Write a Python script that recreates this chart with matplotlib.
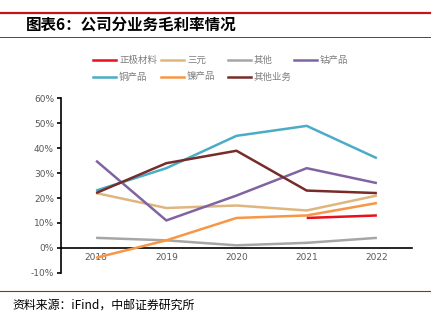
import matplotlib
matplotlib.use("Agg")
import matplotlib.pyplot as plt
from matplotlib.lines import Line2D

plt.rcParams['font.family'] = ['Noto Sans CJK SC', 'DejaVu Sans']

years = ['2018', '2019', '2020', '2021', '2022']
series_names = ['正极材料', '三元', '其他', '钴产品', '铜产品', '镍产品', '其他业务']
zhengji = [None, None, None, 12, 13]
sanyuan = [22, 16, 17, 15, 21]
qita = [4, 3, 1, 2, 4]
gu = [35, 11, 21, 32, 26]
tong = [23, 32, 45, 49, 36]
nie = [-4, 3, 12, 13, 18]
qitayewu = [22, 34, 39, 23, 22]
yticks = [-10, 0, 10, 20, 30, 40, 50, 60]
colors = ['#e8101c', '#dfb67e', '#a6a6a6', '#8064a2', '#4bacc6', '#f79646', '#772c2a']

data = [zhengji, sanyuan, qita, gu, tong, nie, qitayewu]

W, H = 441, 321
fig = plt.figure(figsize=(W/100, H/100), dpi=100)
ax = fig.add_axes([61/W, 1-272.7/H, (412-61)/W, (272.7-98.5)/H])

x = list(range(len(years)))
order = [1, 2, 3, 4, 5, 6, 0]
for i in order:
    xs = [xi for xi, v in zip(x, data[i]) if v is not None]
    vs = [v for v in data[i] if v is not None]
    ax.plot(xs, vs, color=colors[i], lw=1.8, solid_capstyle='butt', zorder=3)

ax.set_xlim(-0.5, len(years) - 0.5)
ax.set_ylim(-10, 60)
ax.set_yticks(yticks)
ax.set_yticklabels([f'{v}%' for v in yticks])
ax.set_xticks(x)
ax.set_xticklabels(years)
ax.spines['top'].set_visible(False)
ax.spines['right'].set_visible(False)
ax.spines['bottom'].set_position(('data', 0))
ax.spines['bottom'].set_linewidth(1.2)
ax.spines['left'].set_linewidth(1.2)
ax.tick_params(axis='x', length=0, pad=4, labelsize=6.5, labelcolor='#595959')
ax.tick_params(axis='y', length=3, width=1.2, direction='out', pad=2, labelsize=6.5, labelcolor='#595959')
for lab in ax.get_xticklabels() + ax.get_yticklabels():
    lab.set_fontfamily(['DejaVu Sans'])

# legend (manual, row-major)
col_x = [93, 161, 228, 294]
row_y = [60, 77]
for k, (name, c) in enumerate(zip(series_names, colors)):
    r, cidx = divmod(k, 4)
    x0 = col_x[cidx]
    y0 = 1 - row_y[r]/H
    fig.add_artist(Line2D([x0/W, (x0+23)/W], [y0, y0], color=c, lw=1.8, transform=fig.transFigure))
    fig.text((x0+26)/W, y0, name, fontsize=6.8, color='#7f7f7f', va='center', ha='left')

# header
fig.add_artist(Line2D([0, 430/W], [1-13/H, 1-13/H], color='#c0171c', lw=1.6, transform=fig.transFigure))
fig.add_artist(Line2D([0, 430/W], [1-37/H, 1-37/H], color='#c0171c', lw=0.7, transform=fig.transFigure))
fig.text(26/W, 1-25/H, '图表6：公司分业务毛利率情况', fontsize=11.2, fontweight='bold', va='center', ha='left', color='#000000')

# footer
fig.add_artist(Line2D([0, 430/W], [1-291/H, 1-291/H], color='#c0171c', lw=0.8, transform=fig.transFigure))
fig.text(12/W, 1-305/H, '资料来源：iFind，中邮证券研究所', fontsize=8.6, va='center', ha='left', color='#000000')

fig.savefig('out.png', dpi=100)
